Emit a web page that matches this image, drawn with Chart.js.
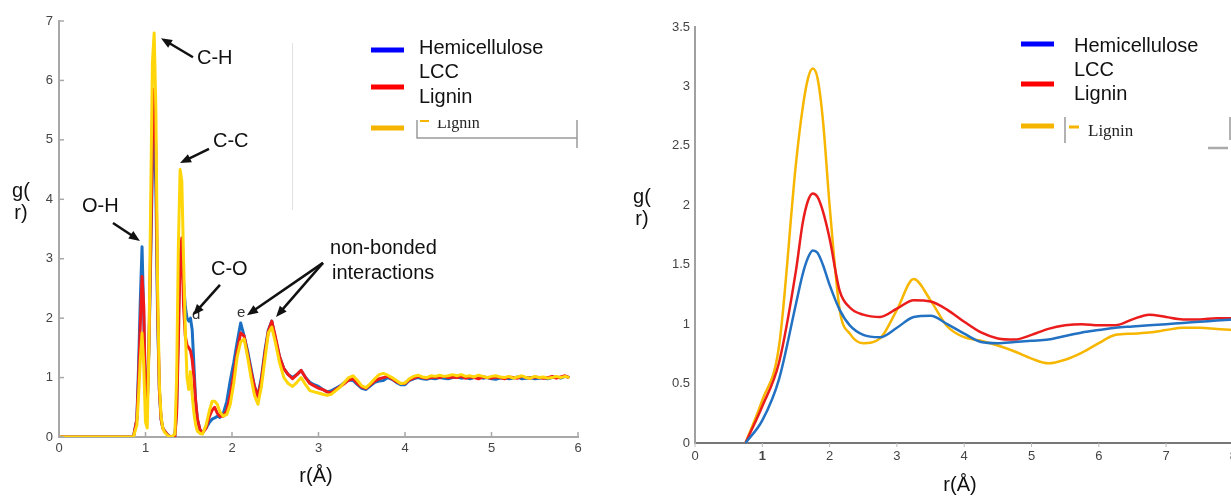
<!DOCTYPE html>
<html>
<head>
<meta charset="utf-8">
<script src="https://cdn.jsdelivr.net/npm/chart.js@4.4.1/dist/chart.umd.min.js"></script>
<style>
  html, body { margin: 0; padding: 0; background: #fff; overflow: hidden; width: 1231px; height: 496px; }
  #left { position: absolute; left: 0; top: 0; }
  #right { position: absolute; left: 615px; top: 0; }
</style>
</head>
<body>
<canvas id="left" width="615" height="496"></canvas>
<canvas id="right" width="640" height="496"></canvas>
<script>
// ---- left panel: r (Å) grid and g(r) of each system ----
const rLeft = [
  0, 0.86, 0.90, 0.92, 0.94, 0.96, 0.98, 1.00, 1.02, 1.04,
  1.06, 1.08, 1.10, 1.12, 1.14, 1.16, 1.18, 1.20, 1.22, 1.26,
  1.30, 1.34, 1.36, 1.38, 1.40, 1.42, 1.44, 1.46, 1.48, 1.50,
  1.52, 1.54, 1.56, 1.58, 1.60, 1.63, 1.66, 1.70, 1.74, 1.77,
  1.80, 1.83, 1.86, 1.90, 1.94, 1.98, 2.02, 2.06, 2.10, 2.14,
  2.18, 2.22, 2.26, 2.30, 2.34, 2.38, 2.42, 2.46, 2.50, 2.55,
  2.60, 2.65, 2.70, 2.75, 2.80, 2.85, 2.90, 2.95, 3.00, 3.05,
  3.10, 3.15, 3.20, 3.25, 3.30, 3.35, 3.40, 3.45, 3.50, 3.55,
  3.60, 3.65, 3.70, 3.75, 3.80, 3.85, 3.90, 3.95, 4.00, 4.05,
  4.10, 4.15, 4.20, 4.25, 4.30, 4.35, 4.40, 4.45, 4.50, 4.55,
  4.60, 4.65, 4.70, 4.75, 4.80, 4.85, 4.90, 4.95, 5.00, 5.05,
  5.10, 5.15, 5.20, 5.25, 5.30, 5.35, 5.40, 5.45, 5.50, 5.55,
  5.60, 5.65, 5.70, 5.75, 5.80, 5.85, 5.90
];
const hemiLeft = [
  0, 0, 0.3, 1.2, 2.3, 3.2, 2.0, 0.7, 0.55, 1.5,
  3.0, 4.6, 5.2, 4.2, 2.0, 0.8, 0.3, 0.15, 0.1, 0.03,
  0, 0.02, 0.5, 2.0, 3.15, 3.0, 2.6, 2.2, 2.0, 1.95,
  2.0, 1.8, 1.2, 0.6, 0.3, 0.12, 0.08, 0.15, 0.25, 0.3,
  0.32, 0.35, 0.33, 0.4, 0.6, 0.95, 1.25, 1.6, 1.92, 1.7,
  1.45, 1.15, 0.85, 0.7, 1.0, 1.45, 1.8, 1.95, 1.65, 1.35,
  1.15, 1.05, 1.0, 1.05, 1.12, 1.0, 0.92, 0.88, 0.85, 0.8,
  0.76, 0.78, 0.82, 0.86, 0.92, 0.96, 0.95, 0.88, 0.82, 0.8,
  0.86, 0.92, 0.94, 0.95, 1.0, 0.97, 0.92, 0.88, 0.88, 0.95,
  0.98, 1.0, 0.98, 0.97, 0.99, 0.98, 1.0, 0.99, 0.98, 1.0,
  1.01, 0.99, 1.0, 0.98, 1.0, 1.01, 0.99, 1.0, 0.98, 0.97,
  0.99, 1.0, 0.98, 0.99, 1.01, 0.98, 0.99, 1.0, 0.98, 0.99,
  1.0, 0.98, 1.0, 1.01, 0.99, 1.02, 1.0
];
const lccLeft = [
  0, 0, 0.3, 1.0, 1.9, 2.7, 2.2, 0.6, 0.5, 1.6,
  3.2, 5.0, 5.85, 4.8, 2.2, 0.8, 0.3, 0.15, 0.1, 0.03,
  0, 0.02, 0.4, 1.6, 3.0, 3.35, 2.2, 1.7, 1.55, 1.5,
  1.45, 1.3, 1.0, 0.6, 0.3, 0.12, 0.07, 0.15, 0.35, 0.45,
  0.5, 0.4, 0.35, 0.35, 0.45, 0.7, 1.05, 1.45, 1.75, 1.7,
  1.4, 1.1, 0.85, 0.68, 0.95, 1.4, 1.78, 1.95, 1.7, 1.35,
  1.15, 1.05, 0.98, 1.05, 1.12, 1.0, 0.9, 0.86, 0.82, 0.8,
  0.76, 0.74, 0.8, 0.85, 0.9, 0.96, 0.98, 0.9, 0.84, 0.82,
  0.88, 0.94, 0.98, 1.0, 1.02, 0.98, 0.93, 0.9, 0.9, 0.96,
  0.99, 1.02, 1.0, 0.99, 1.0, 1.01, 1.0, 1.02, 1.0, 1.01,
  1.0, 1.02, 0.99, 1.01, 1.0, 0.98, 1.01, 1.0, 0.99, 1.01,
  1.0, 0.98, 1.01, 1.0, 0.99, 1.02, 1.0, 0.99, 1.01, 1.0,
  0.99, 1.0, 1.02, 0.99, 1.01, 1.03, 1.0
];
const ligninLeft = [
  0, 0, 0.2, 0.7, 1.3, 1.75, 1.2, 0.25, 0.15, 1.5,
  4.0, 6.3, 6.8, 5.5, 2.5, 0.9, 0.35, 0.15, 0.08, 0.02,
  0, 0.05, 1.0, 3.2, 4.5, 4.3, 3.0, 1.8, 1.0, 0.8,
  1.1, 0.7, 0.4, 0.2, 0.1, 0.06, 0.05, 0.2, 0.45, 0.6,
  0.6, 0.55, 0.42, 0.35, 0.38, 0.55, 0.9, 1.35, 1.6, 1.65,
  1.35, 1.0, 0.7, 0.55, 0.85, 1.3, 1.75, 1.85, 1.6, 1.25,
  1.0, 0.9, 0.85, 0.92, 1.0, 0.88, 0.78, 0.76, 0.74, 0.72,
  0.7, 0.72, 0.78, 0.84, 0.92, 1.0, 1.03, 0.95, 0.86, 0.83,
  0.9, 0.98, 1.05, 1.07, 1.04, 1.0, 0.95, 0.9, 0.91, 0.98,
  1.02, 1.04, 1.01, 1.0, 1.03, 1.02, 1.04, 1.02, 1.03, 1.05,
  1.03, 1.05, 1.02, 1.03, 1.01, 1.04, 1.02, 1.0, 1.02, 1.03,
  1.01, 1.0, 1.02, 0.99, 1.01, 1.03, 1.0, 0.99, 1.02, 1.0,
  1.01, 0.99, 1.0, 1.02, 1.0, 1.02, 1.0
];

// ---- right panel ----
const rRight = [
  0.75, 1.0, 1.25, 1.5, 1.6, 1.68, 1.75, 1.82, 1.9, 2.0,
  2.15, 2.3, 2.5, 2.75, 3.0, 3.25, 3.5, 3.75, 4.0, 4.25,
  4.5, 4.75, 5.0, 5.25, 5.5, 5.75, 6.0, 6.25, 6.5, 6.75,
  7.0, 7.25, 7.5, 7.75, 8.0
];
const hemiRight = [
  0, 0.19, 0.54, 1.17, 1.42, 1.56, 1.62, 1.6, 1.5, 1.33,
  1.12, 0.99, 0.91, 0.89, 0.97, 1.06, 1.07, 1.0, 0.92, 0.85,
  0.84, 0.85, 0.86, 0.87, 0.9, 0.93, 0.95, 0.97, 0.98, 0.99,
  1.0, 1.01, 1.02, 1.03, 1.04
];
const lccRight = [
  0, 0.31, 0.68, 1.45, 1.85, 2.04, 2.1, 2.07, 1.95, 1.72,
  1.28, 1.14, 1.08, 1.06, 1.13, 1.2, 1.19, 1.12, 1.02, 0.93,
  0.88, 0.87, 0.91, 0.96, 0.99, 1.0, 0.99, 0.99, 1.04, 1.08,
  1.06, 1.04, 1.04, 1.05, 1.05
];
const ligninRight = [
  0, 0.36, 0.82, 2.35, 2.82, 3.07, 3.15, 3.07, 2.72, 2.0,
  1.12, 0.92, 0.84, 0.88, 1.12, 1.38, 1.2, 0.98, 0.89, 0.86,
  0.82, 0.77, 0.71, 0.67, 0.7, 0.76, 0.84, 0.91, 0.92, 0.93,
  0.95, 0.97, 0.97, 0.96, 0.95
];

const seriesNames = ['Hemicellulose', 'LCC', 'Lignin'];
const xTicksLeft = [0, 1, 2, 3, 4, 5, 6];
const xTicksRight = [0, 1, 2, 3, 4, 5, 6, 7, 8];

// annotations, in data units (r, g)
const leftNotes = [
  { text: 'C-H', r: 1.595, g: 6.28 },
  { text: 'C-C', r: 1.78, g: 4.88 },
  { text: 'O-H', r: 0.266, g: 3.79 },
  { text: 'C-O', r: 1.757, g: 2.73 },
  { text: 'non-bonded', r: 3.133, g: 3.08 },
  { text: 'interactions', r: 3.156, g: 2.66 }
];
const leftSmallNotes = [
  { text: 'd', r: 1.538, g: 1.99 },
  { text: 'e', r: 2.058, g: 2.02 }
];
const leftArrows = [
  [1.549, 6.39, 1.179, 6.71],
  [1.734, 4.85, 1.399, 4.61],
  [0.624, 3.60, 0.936, 3.30],
  [1.861, 2.56, 1.549, 2.05],
  [3.052, 2.93, 2.173, 2.05],
  [3.052, 2.93, 2.509, 2.02]
];

const SANS = "'Liberation Sans', Arial, sans-serif";
const SERIF = "'Liberation Serif', 'Times New Roman', serif";
const legendColors = ['#0000ff', '#ff0000', '#f5b400'];

const pts = (xs, ys) => xs.map((x, i) => ({ x: x, y: ys[i] }));

function arrow(ctx, x1, y1, x2, y2) {
  const a = Math.atan2(y2 - y1, x2 - x1), L = 11, W = 4.5;
  ctx.beginPath();
  ctx.moveTo(x1, y1);
  ctx.lineTo(x2 - 6 * Math.cos(a), y2 - 6 * Math.sin(a));
  ctx.stroke();
  ctx.beginPath();
  ctx.moveTo(x2, y2);
  ctx.lineTo(x2 - L * Math.cos(a) + W * Math.sin(a), y2 - L * Math.sin(a) - W * Math.cos(a));
  ctx.lineTo(x2 - L * Math.cos(a) - W * Math.sin(a), y2 - L * Math.sin(a) + W * Math.cos(a));
  ctx.closePath();
  ctx.fill();
}

function inwardTicks(chart, color, len) {
  const ctx = chart.ctx, xs = chart.scales.x, ys = chart.scales.y;
  ctx.save();
  ctx.strokeStyle = color;
  ctx.lineWidth = 1.5;
  ys.ticks.forEach(t => {
    const y = ys.getPixelForValue(t.value);
    ctx.beginPath(); ctx.moveTo(xs.left, y); ctx.lineTo(xs.left + len, y); ctx.stroke();
  });
  xs.ticks.forEach(t => {
    const x = xs.getPixelForValue(t.value);
    ctx.beginPath(); ctx.moveTo(x, ys.bottom); ctx.lineTo(x, ys.bottom - len); ctx.stroke();
  });
  ctx.restore();
}

function drawLegend(ctx, lineX, lineYs, textX, textYs, size) {
  ctx.save();
  ctx.lineWidth = 5;
  legendColors.forEach((c, i) => {
    ctx.strokeStyle = c;
    ctx.beginPath(); ctx.moveTo(lineX, lineYs[i]); ctx.lineTo(lineX + 33, lineYs[i]); ctx.stroke();
  });
  ctx.fillStyle = '#111';
  ctx.font = size + 'px ' + SANS;
  ctx.textAlign = 'left';
  seriesNames.forEach((n, i) => ctx.fillText(n, textX, textYs[i]));
  ctx.restore();
}

const leftOverlay = {
  id: 'leftOverlay',
  afterDraw(chart) {
    const ctx = chart.ctx, xs = chart.scales.x, ys = chart.scales.y;
    inwardTicks(chart, '#a8a8a8', 5);
    ctx.save();
    // faint stray line
    ctx.strokeStyle = '#e2e2e2'; ctx.lineWidth = 1;
    ctx.beginPath(); ctx.moveTo(292.5, 43); ctx.lineTo(292.5, 210); ctx.stroke();
    // legend box remnant
    ctx.strokeStyle = '#9a9a9a'; ctx.lineWidth = 1.5;
    ctx.beginPath(); ctx.moveTo(417, 120); ctx.lineTo(417, 138); ctx.lineTo(577, 138); ctx.stroke();
    ctx.beginPath(); ctx.moveTo(577, 120); ctx.lineTo(577, 148); ctx.stroke();
    ctx.strokeStyle = '#f5b400'; ctx.lineWidth = 2;
    ctx.beginPath(); ctx.moveTo(420, 121); ctx.lineTo(429, 121); ctx.stroke();
    ctx.save();
    ctx.beginPath(); ctx.rect(420, 120, 150, 16); ctx.clip();
    ctx.fillStyle = '#222'; ctx.font = '16px ' + SERIF;
    ctx.fillText('Lignin', 437, 128);
    ctx.restore();
    drawLegend(ctx, 371, [50, 87, 128], 419, [54, 78, 103], 20);
    // axis titles
    ctx.fillStyle = '#111'; ctx.font = '20px ' + SANS; ctx.textAlign = 'center';
    ctx.fillText('g(', 21, 197);
    ctx.fillText('r)', 21, 219);
    ctx.fillText('r(Å)', 316, 482);
    // annotations
    ctx.textAlign = 'left';
    leftNotes.forEach(n => ctx.fillText(n.text, xs.getPixelForValue(n.r), ys.getPixelForValue(n.g)));
    ctx.font = '15px ' + SANS; ctx.fillStyle = '#333';
    leftSmallNotes.forEach(n => ctx.fillText(n.text, xs.getPixelForValue(n.r), ys.getPixelForValue(n.g)));
    ctx.strokeStyle = '#111'; ctx.fillStyle = '#111'; ctx.lineWidth = 2.5;
    leftArrows.forEach(a => arrow(ctx,
      xs.getPixelForValue(a[0]), ys.getPixelForValue(a[1]),
      xs.getPixelForValue(a[2]), ys.getPixelForValue(a[3])));
    ctx.restore();
  }
};

const rightOverlay = {
  id: 'rightOverlay',
  afterDraw(chart) {
    const ctx = chart.ctx, xs = chart.scales.x, ys = chart.scales.y;
    ctx.save();
    ctx.strokeStyle = '#bbb'; ctx.lineWidth = 1;
    xs.ticks.forEach(t => {
      const x = xs.getPixelForValue(t.value);
      ctx.beginPath(); ctx.moveTo(x, ys.bottom); ctx.lineTo(x, ys.bottom + 4); ctx.stroke();
    });
    drawLegend(ctx, 406, [44, 84, 126], 459, [52, 76, 100], 20);
    ctx.strokeStyle = '#999'; ctx.lineWidth = 1.5;
    ctx.beginPath(); ctx.moveTo(450, 117); ctx.lineTo(450, 143); ctx.stroke();
    ctx.beginPath(); ctx.moveTo(615, 117); ctx.lineTo(615, 140); ctx.stroke();
    ctx.strokeStyle = '#aaa'; ctx.lineWidth = 2.5;
    ctx.beginPath(); ctx.moveTo(593, 148); ctx.lineTo(613, 148); ctx.stroke();
    ctx.strokeStyle = '#f5b400'; ctx.lineWidth = 3;
    ctx.beginPath(); ctx.moveTo(454, 127); ctx.lineTo(464, 127); ctx.stroke();
    ctx.fillStyle = '#222'; ctx.font = '17px ' + SERIF; ctx.textAlign = 'left';
    ctx.fillText('Lignin', 473, 136);
    ctx.fillStyle = '#111'; ctx.font = '20px ' + SANS; ctx.textAlign = 'center';
    ctx.fillText('g(', 27, 203);
    ctx.fillText('r)', 27, 225);
    ctx.fillText('r(Å)', 345, 491);
    ctx.restore();
  }
};

const tickFont = { family: SANS, size: 13 };

// left chart
new Chart(document.getElementById('left'), {
  type: 'line',
  data: {
    datasets: [
      { label: seriesNames[0], data: pts(rLeft, hemiLeft), borderColor: '#1b6fc2', borderWidth: 3, order: 2 },
      { label: seriesNames[1], data: pts(rLeft, lccLeft), borderColor: '#f01a1a', borderWidth: 3, order: 1 },
      { label: seriesNames[2], data: pts(rLeft, ligninLeft), borderColor: '#ffd60a', borderWidth: 3, order: 0 }
    ]
  },
  options: {
    responsive: false,
    animation: false,
    devicePixelRatio: 1,
    layout: { padding: { top: 21, right: 37, left: 0, bottom: 0 } },
    elements: { point: { radius: 0 }, line: { tension: 0, borderJoinStyle: 'round' } },
    plugins: { legend: { display: false }, tooltip: { enabled: false } },
    scales: {
      x: {
        type: 'linear', min: 0, max: 6,
        afterFit: s => { s.height = 59; },
        afterBuildTicks: s => { s.ticks = xTicksLeft.map(v => ({ value: v })); },
        ticks: { font: tickFont, color: '#444', padding: 4 },
        grid: { display: true, drawOnChartArea: false, drawTicks: false },
        border: { display: true, color: '#a8a8a8', width: 2 }
      },
      y: {
        min: 0, max: 7,
        afterFit: s => { s.width = 59; },
        ticks: { stepSize: 1, font: tickFont, color: '#444', padding: 6 },
        grid: { display: true, drawOnChartArea: false, drawTicks: false },
        border: { display: true, color: '#a8a8a8', width: 2 }
      }
    }
  },
  plugins: [leftOverlay]
});

// right chart
new Chart(document.getElementById('right'), {
  type: 'line',
  data: {
    datasets: [
      { label: seriesNames[0], data: pts(rRight, hemiRight), borderColor: '#2271c3', borderWidth: 2.5 },
      { label: seriesNames[1], data: pts(rRight, lccRight), borderColor: '#ea1c1c', borderWidth: 2.5 },
      { label: seriesNames[2], data: pts(rRight, ligninRight), borderColor: '#f7b600', borderWidth: 2.5 }
    ]
  },
  options: {
    responsive: false,
    animation: false,
    devicePixelRatio: 1,
    layout: { padding: { top: 27, right: 21.6, left: 0, bottom: 0 } },
    elements: { point: { radius: 0 }, line: { cubicInterpolationMode: 'monotone' } },
    plugins: { legend: { display: false }, tooltip: { enabled: false } },
    scales: {
      x: {
        type: 'linear', min: 0, max: 8,
        afterFit: s => { s.height = 53; },
        afterBuildTicks: s => { s.ticks = xTicksRight.map(v => ({ value: v })); },
        ticks: {
          color: '#444', padding: 6,
          font: c => ({ family: SANS, size: 13, weight: c.tick && c.tick.value === 1 ? 'bold' : 'normal' })
        },
        grid: { display: true, drawOnChartArea: false, drawTicks: false },
        border: { display: true, color: '#777', width: 2 }
      },
      y: {
        min: 0, max: 3.5,
        afterFit: s => { s.width = 80; },
        ticks: { stepSize: 0.5, font: tickFont, color: '#444', padding: 5, callback: v => String(v) },
        grid: { display: true, drawOnChartArea: false, drawTicks: false },
        border: { display: true, color: '#a0a0a0', width: 2 }
      }
    }
  },
  plugins: [rightOverlay]
});
</script>
</body>
</html>
